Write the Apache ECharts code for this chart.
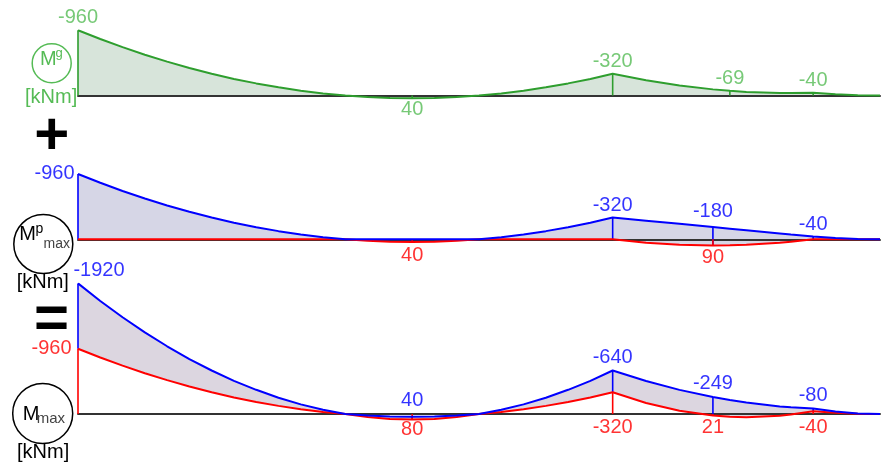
<!DOCTYPE html>
<html><head><meta charset="utf-8">
<script src="https://cdn.jsdelivr.net/npm/echarts@6/dist/echarts.min.js"></script>
<style>html,body{margin:0;padding:0;background:#fff}#c{width:893px;height:468px}</style>
</head><body><div id="c"></div>
<script>
// positions along the beam [m]
const X      = [0,0.5,1,1.5,2,2.5,3,3.5,4,4.5,5,5.5,6,6.5,7,7.5,8,8.5,9,9.5,10,10.5,11,11.5,12,
                12.75,13.5,14.25,14.63,15,15.75,16,16.5,17,17.5,18];
// M^g [kNm]
const Mg     = [-960,-831,-711,-600,-498,-404,-320,-244,-178,-120,-71,-31,0,22,36,40,36,22,0,-31,-71,-120,-178,-244,-320,
                -223,-147,-90,-69,-53,-37,-36,-40,-18,-4,0];
// M^p max / min [kNm]
const MpMax  = [-960,-831,-711,-600,-498,-404,-320,-244,-178,-120,-71,-31,0,0,0,0,0,0,0,-31,-71,-120,-178,-244,-320,
                -273,-227,-180,-156,-133,-87,-71,-40,-18,-4,0];
const MpMin  = [0,0,0,0,0,0,0,0,0,0,0,0,0,22,36,40,36,22,0,0,0,0,0,0,0,
                50,80,90,87,80,50,36,0,0,0,0];
// M max / min total [kNm]
const MMax   = [-1920,-1662,-1422,-1200,-996,-808,-640,-488,-356,-240,-142,-62,0,22,36,40,36,22,0,-62,-142,-240,-356,-488,-640,
                -485,-355,-249,-205,-168,-112,-98,-80,-36,-9,0];
const MMin   = [-960,-831,-711,-600,-498,-404,-320,-244,-178,-120,-71,-31,0,44,72,80,72,44,0,-31,-71,-120,-178,-244,-320,
                -162,-48,21,39,46,25,8,-40,-18,-4,0];
// value labels [x, value]
const labG    = [[0,-960],[7.5,40],[12,-320],[14.63,-69],[16.5,-40]];
const labPMax = [[0,-960],[12,-320],[14.25,-180],[16.5,-40]];
const labPMin = [[7.5,40],[14.25,90]];
const labMMax = [[0,-1920],[7.5,40],[12,-640],[14.25,-249],[16.5,-80]];
const labMMin = [[0,-960],[7.5,80],[12,-320],[14.25,21],[16.5,-40]];
// section marks
const ticksG  = [0,7.5,12,14.63,16.5];
const ticksPM = [0,7.5,12,14.25,16.5];

const FONT = '"Liberation Sans", Arial, sans-serif';
const GL = '#2e9e2e', GT = '#55bb55', GF = '#d7e4da';
const BL = '#0000ff', RD = '#ff0000', F2 = '#d6d6e6', F3 = '#dcd6e0';
const ZERO = X.map(() => 0);

function pts(a){ return X.map((x,i)=>[x,a[i]]); }
function line(gi, a, color, z){
  return {type:'line', xAxisIndex:gi, yAxisIndex:gi, data:pts(a), symbol:'none', smooth:false,
    lineStyle:{color, width:2}, z, silent:true, animation:false};
}
function fill(gi, A, B, color){
  return {type:'custom', xAxisIndex:gi, yAxisIndex:gi, data:[[0,0]], z:1, silent:true, animation:false,
    renderItem:(p, api)=>{
      const top = X.map((x,i)=>api.coord([x,A[i]]));
      const bot = X.map((x,i)=>api.coord([x,B[i]])).reverse();
      return {type:'polygon', shape:{points:top.concat(bot)}, style:{fill:color}};
    }};
}
function ticks(gi, list, A, B, color){
  const data = list.map(t => { const i = X.indexOf(t); return [t, A[i], B ? B[i] : 0]; });
  return {type:'custom', xAxisIndex:gi, yAxisIndex:gi, data, z:3, silent:true, animation:false,
    encode:{x:0, y:[1,2]},
    renderItem:(p, api)=>{
      const a = api.coord([api.value(0), api.value(1)]);
      const b = api.coord([api.value(0), api.value(2)]);
      return {type:'line', shape:{x1:a[0],y1:a[1],x2:b[0],y2:b[1]}, style:{stroke:color, lineWidth:1.6}};
    }};
}
function labels(gi, list, color, place){
  const data = list.map(([x,v],k)=>{
    const [pos, dist, ox, oy] = place[k];
    const anchor = pos==='top' ? Math.min(v,0) : pos==='bottom' ? Math.max(v,0) : v;
    return {value:[x,anchor], label:{show:true, position:pos, distance:dist, offset:[ox||0, oy||0],
      formatter:String(v), color, fontSize:20, fontFamily:FONT}};
  });
  return {type:'scatter', xAxisIndex:gi, yAxisIndex:gi, data, symbolSize:1, itemStyle:{color:'rgba(0,0,0,0)'},
    z:6, silent:true, animation:false};
}

const placeG    = [['top',2],['bottom',1],['top',2],['top',2],['top',2]];
const placePMax = [['left',3,0,-1],['top',1.5],['top',5.5],['top',2]];
const placePMin = [['bottom',3],['bottom',1.5]];
const placeMMax = [['top',2,21,0],['top',3.3],['top',2.5],['top',3],['top',2.3]];
const placeMMin = [['left',6],['bottom',0],['bottom',3],['bottom',1.6],['bottom',3]];

const grids = [
  {left:78, width:802, top:30.2, height:130.6},
  {left:78, width:802, top:174, height:130.6},
  {left:78, width:802, top:283.4, height:152.4}
];
const yr = [[-960,960],[-960,960],[-1920,320]];

const chart = echarts.init(document.getElementById('c'), null, {renderer:'canvas'});
chart.setOption({
  animation:false,
  backgroundColor:'#fff',
  grid: grids,
  xAxis: grids.map((g,i)=>({gridIndex:i, type:'value', min:0, max:18, z:2,
    axisLine:{show:true, onZero:true, lineStyle:{color:'#333', width:2}},
    axisTick:{show:false}, axisLabel:{show:false}, splitLine:{show:false}})),
  yAxis: grids.map((g,i)=>({gridIndex:i, type:'value', inverse:true, min:yr[i][0], max:yr[i][1],
    axisLine:{show:false}, axisTick:{show:false}, axisLabel:{show:false}, splitLine:{show:false}})),
  series: [
    fill(0, Mg, ZERO, GF),
    ticks(0, ticksG, Mg, null, GL),
    line(0, Mg, GL, 4),
    labels(0, labG, GT, placeG),

    fill(1, MpMax, MpMin, F2),
    ticks(1, ticksPM, MpMax, MpMin, BL),
    ticks(1, ticksPM, MpMin, null, RD),
    line(1, MpMin, RD, 4),
    line(1, MpMax, BL, 5),
    labels(1, labPMax, BL, placePMax),
    labels(1, labPMin, RD, placePMin),

    fill(2, MMax, MMin, F3),
    ticks(2, ticksPM, MMax, MMin, BL),
    ticks(2, ticksPM, MMin, null, RD),
    line(2, MMin, RD, 4),
    line(2, MMax, BL, 5),
    labels(2, labMMax, BL, placeMMax),
    labels(2, labMMin, RD, placeMMin)
  ],
  graphic: [
    {type:'circle', shape:{cx:51.7, cy:63.3, r:19.5}, style:{fill:'none', stroke:GT, lineWidth:1.5}},
    {type:'text', x:40, y:59.5, style:{text:'M', fontSize:20, fontFamily:FONT, fill:GT, align:'left', verticalAlign:'middle'}},
    {type:'text', x:55.5, y:53, style:{text:'g', fontSize:13, fontFamily:FONT, fill:GT, align:'left', verticalAlign:'middle'}},
    {type:'text', x:25, y:97, style:{text:'[kNm]', fontSize:20, fontFamily:FONT, fill:GT, align:'left', verticalAlign:'middle'}},
    {type:'text', x:51.7, y:137, style:{text:'+', fontSize:60, fontWeight:'bold', fontFamily:FONT, fill:'#000', align:'center', verticalAlign:'middle'}},

    {type:'circle', shape:{cx:43.3, cy:244, r:29.5}, style:{fill:'none', stroke:'#000', lineWidth:1.5}},
    {type:'text', x:19.3, y:234, style:{text:'M', fontSize:20, fontFamily:FONT, fill:'#000', align:'left', verticalAlign:'middle'}},
    {type:'text', x:35.5, y:229, style:{text:'p', fontSize:14, fontFamily:FONT, fill:'#000', align:'left', verticalAlign:'middle'}},
    {type:'text', x:43.5, y:244, style:{text:'max', fontSize:14, fontFamily:FONT, fill:'#444', align:'left', verticalAlign:'middle'}},
    {type:'text', x:16.7, y:282, style:{text:'[kNm]', fontSize:20, fontFamily:FONT, fill:'#000', align:'left', verticalAlign:'middle'}},
    {type:'text', x:51.5, y:320, style:{text:'=', fontSize:60, fontWeight:'bold', fontFamily:FONT, fill:'#000', align:'center', verticalAlign:'middle'}},

    {type:'circle', shape:{cx:42.7, cy:413.5, r:30}, style:{fill:'none', stroke:'#000', lineWidth:1.5}},
    {type:'text', x:22.7, y:414, style:{text:'M', fontSize:20, fontFamily:FONT, fill:'#000', align:'left', verticalAlign:'middle'}},
    {type:'text', x:36.7, y:418.5, style:{text:'max', fontSize:15, fontFamily:FONT, fill:'#444', align:'left', verticalAlign:'middle'}},
    {type:'text', x:17, y:452, style:{text:'[kNm]', fontSize:20, fontFamily:FONT, fill:'#000', align:'left', verticalAlign:'middle'}}
  ]
});
</script></body></html>
